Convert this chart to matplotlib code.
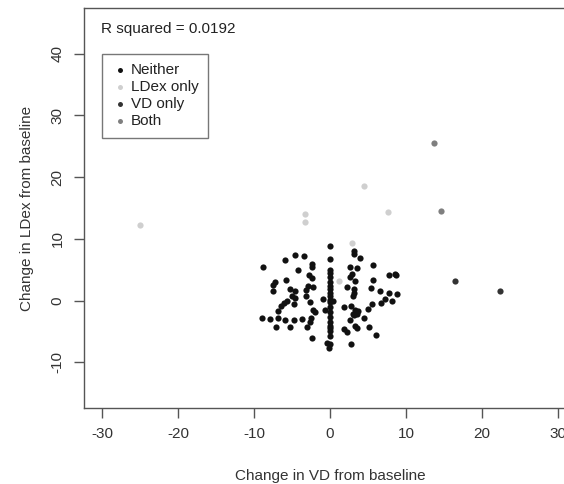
import matplotlib
matplotlib.use("Agg")
import matplotlib.pyplot as plt
import numpy as np

plt.rcParams["font.family"] = ["Liberation Sans", "DejaVu Sans"]
plt.rcParams["axes.unicode_minus"] = False

# Neither (black)
neither_x = [0, 3.1, 3.1, 3.9, -4.6, -3.4, -5.9, 0, -8.8, -2.4, -2.4, -4.2, 2.6, 3.5,
             5.6, 0, 0, 0, 2.9, 2.6, 7.8, 8.6, 8.7, -5.8, -7.2, -7.5, -2.4, 3.3, 5.6,
             0, 0, 0, -2.9, -2.2, -3.1, 2.3, 3.1, 3.2, 3.0, 5.4, -5.3, -7.5, -4.6,
             -5.0, -4.6, 6.6, 7.8, 8.8, 0, 0, 0, 0, -0.9, 0.4, -3.1, -2.6, 7.2, 8.1,
             6.7, -5.6, -6.1, -6.4, -4.8, 5.5, 1.8, 5.0, -2.2, -2.0, -0.7, 0, -6.8,
             3.3, 3.7, 3.5, 3.0, 3.2, 4.5, 2.6, -9.0, -7.9, -6.9, -5.9, -4.8, -3.7,
             -2.5, -2.6, -7.1, -5.3, -3.0, 3.3, 3.5, 5.2, 0, 0, 0, 1.8, 2.2, 6.1,
             -2.4, -0.4, 0, -0.1, 2.7, 0, 0, 0, 0, -2.8, 2.8]
neither_y = [8.9, 8.0, 7.6, 6.9, 7.4, 7.2, 6.6, 6.7, 5.5, 6.0, 5.4, 5.0, 5.5, 5.3,
             5.7, 5.0, 4.4, 3.9, 4.3, 3.9, 4.1, 4.3, 4.1, 3.4, 3.0, 2.6, 3.6, 3.2, 3.4,
             3.0, 2.4, 1.9, 2.4, 2.2, 1.7, 2.2, 1.9, 1.3, 0.8, 2.1, 1.9, 1.5, 1.5,
             0.8, 0.5, 1.5, 1.2, 1.0, 1.3, 0.8, 0.1, -0.3, 0.2, 0.0, 0.8, -0.2, 0.3, -0.1,
             -0.4, -0.1, -0.4, -0.8, -0.5, -0.6, -1.1, -1.4, -1.5, -1.9, -1.5, -1.9, -1.7,
             -1.5, -1.7, -2.1, -2.2, -2.4, -2.8, -3.1, -2.8, -3.0, -2.8, -3.2, -3.1, -3.0,
             -2.8, -3.5, -4.2, -4.3, -4.2, -4.1, -4.4, -4.2, -4.1, -4.4, -4.9, -4.6, -5.1, -5.6,
             -6.0, -6.9, -7.1, -7.6, -7.1, -1.0, -2.6, -3.4, -5.8, 4.2, -0.8]

# LDex only (light grey)
ldex_x = [-25.0, -3.3, -3.3, 4.5, 7.6, 2.9, 1.2]
ldex_y = [12.2, 14.1, 12.7, 18.5, 14.4, 9.4, 3.1]

# VD only (dark grey)
vd_x = [16.4, 22.4]
vd_y = [3.1, 1.5]

# Both (mid grey)
both_x = [13.7, 14.6]
both_y = [25.6, 14.5]

r_squared = 0.0192

fig = plt.figure(figsize=(5.64, 4.84), dpi=100)
ax = fig.add_axes([84 / 564, 76 / 484, 492 / 564, 400 / 484])

pt_size = 20
ax.scatter(neither_x, neither_y, s=pt_size, color="#111111", label="Neither", linewidths=0)
ax.scatter(ldex_x, ldex_y, s=pt_size, color="#cfcfcf", label="LDex only", linewidths=0)
ax.scatter(vd_x, vd_y, s=pt_size, color="#333333", label="VD only", linewidths=0)
ax.scatter(both_x, both_y, s=pt_size, color="#7f7f7f", label="Both", linewidths=0)

ax.set_xlim(-32.4, 32.4)
ax.set_ylim(-17.4, 47.4)
ax.set_xticks(np.arange(-30, 31, 10))
ax.set_yticks(np.arange(-10, 41, 10))

line_col = "#555555"
for side in ["left", "bottom", "top", "right"]:
    ax.spines[side].set_color(line_col)
    ax.spines[side].set_linewidth(1.0)
ax.tick_params(direction="out", length=7, width=1.0, color=line_col,
               labelsize=11, labelcolor="#333333", pad=7)
for lab in ax.get_yticklabels():
    lab.set_rotation(90)
    lab.set_va("center")

ax.set_xlabel("Change in VD from baseline", fontsize=11, color="#333333", labelpad=20)
ax.set_ylabel("Change in LDex from baseline", fontsize=11, color="#333333", labelpad=12)

ax.text(0.0346, 0.9475, f"R squared = {r_squared}", transform=ax.transAxes,
        fontsize=11, color="#222222", va="center", ha="left")

leg = ax.legend(loc="upper left", bbox_to_anchor=(0.0366, 0.885), borderaxespad=0,
                fancybox=False, edgecolor=line_col, fontsize=11, markerscale=0.8,
                handletextpad=0.1, labelspacing=0.2, borderpad=0.6, handlelength=1.2)
leg.get_frame().set_linewidth(1.0)
for t in leg.get_texts():
    t.set_color("#222222")

fig.savefig("out.png", dpi=100)
